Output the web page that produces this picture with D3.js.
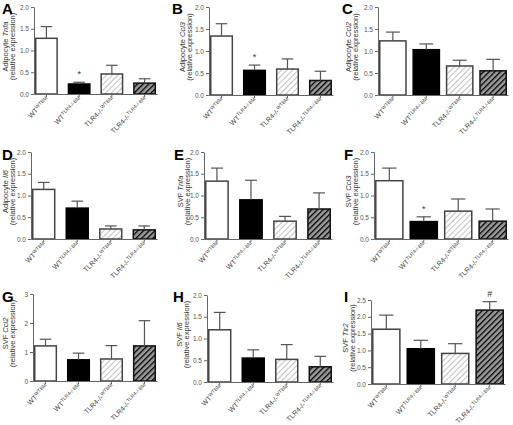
<!DOCTYPE html>
<html><head><meta charset="utf-8">
<script src="https://cdn.jsdelivr.net/npm/d3@7"></script>
<style>body{margin:0;background:#fff}svg{display:block}</style>
</head><body><svg id="c" width="513" height="425"></svg>
<script>
// ---- data ----
const groupBase = ["WT", "WT", "TLR4-/-", "TLR4-/-"];
const groupSup  = ["WTBM", "TLR4-/-BM", "WTBM", "TLR4-/-BM"];
const panelLetters = ["A","B","C","D","E","F","G","H","I"];
const titlePrefix = ["Adipocyte","Adipocyte","Adipocyte","Adipocyte","SVF","SVF","SVF","SVF","SVF"];
const genes = ["Tnfa","Ccl3","Ccl2","Il6","Tnfa","Ccl3","Ccl2","Il6","Tlr2"];
const meansA = [1.28, 0.23, 0.46, 0.25];
const meansB = [1.34, 0.56, 0.59, 0.33];
const meansC = [1.23, 1.03, 0.66, 0.55];
const meansD = [1.14, 0.71, 0.23, 0.21];
const meansE = [1.33, 0.90, 0.41, 0.69];
const meansF = [1.34, 0.40, 0.64, 0.41];
const meansG = [1.21, 0.73, 0.76, 1.21];
const meansH = [1.20, 0.55, 0.52, 0.35];
const meansI = [1.63, 1.05, 0.91, 2.20];
const semA = [0.27, 0.04, 0.20, 0.10];
const semB = [0.28, 0.12, 0.23, 0.21];
const semC = [0.20, 0.13, 0.13, 0.26];
const semD = [0.16, 0.16, 0.07, 0.09];
const semE = [0.30, 0.45, 0.11, 0.37];
const semF = [0.29, 0.11, 0.28, 0.28];
const semG = [0.23, 0.23, 0.46, 0.87];
const semH = [0.40, 0.19, 0.34, 0.24];
const semI = [0.42, 0.25, 0.29, 0.25];
const marksA = ["", "*", "", ""];
const marksB = ["", "*", "", ""];
const marksF = ["", "*", "", ""];
const marksI = ["", "", "", "#"];
const noMarks = ["", "", "", ""];
const ticks2   = [0, 0.5, 1.0, 1.5, 2.0];
const ticks3   = [0, 1, 2, 3];
const ticks2_5 = [0, 0.5, 1.0, 1.5, 2.0, 2.5];
const yMax = [2, 2, 2, 2, 2, 2, 3, 2, 2.5];

const means = [meansA, meansB, meansC, meansD, meansE, meansF, meansG, meansH, meansI];
const sems  = [semA, semB, semC, semD, semE, semF, semG, semH, semI];
const marks = [marksA, marksB, noMarks, noMarks, noMarks, marksF, noMarks, noMarks, marksI];
const tickSets = [ticks2, ticks2, ticks2, ticks2, ticks2, ticks2, ticks3, ticks2, ticks2_5];

// ---- layout (positions only) ----
const layout = [
  {x0:34,  x1:157, yT:7,   yB:94,  pi:0.30, tx:8,   lx:2,   ly:14},
  {x0:209, x1:333, yT:7,   yB:95,  pi:0.30, tx:185, lx:172, ly:14},
  {x0:378, x1:508, yT:7,   yB:95,  pi:0.17, tx:351, lx:342, ly:14},
  {x0:31,  x1:157, yT:152, yB:239, pi:0.30, tx:8,   lx:2,   ly:160},
  {x0:204, x1:332, yT:152, yB:239, pi:0.30, tx:183, lx:174, ly:160},
  {x0:374, x1:508, yT:152, yB:239, pi:0.17, tx:351, lx:344, ly:160},
  {x0:33,  x1:157, yT:294, yB:381, pi:0.30, tx:8,   lx:2,   ly:302},
  {x0:207, x1:333, yT:295, yB:382, pi:0.30, tx:182, lx:173, ly:302},
  {x0:371, x1:505, yT:300, yB:384, pi:0.17, tx:348, lx:344, ly:302}
];

const svg = d3.select("#c");
const defs = svg.append("defs");
const p1 = defs.append("pattern").attr("id","hatchLight").attr("patternUnits","userSpaceOnUse")
  .attr("width",4).attr("height",4).attr("patternTransform","rotate(45)");
p1.append("rect").attr("width",4).attr("height",4).attr("fill","#fff");
p1.append("line").attr("x1",0).attr("y1",0).attr("x2",0).attr("y2",4).attr("stroke","#a8a8a8").attr("stroke-width",1.4);
const p2 = defs.append("pattern").attr("id","hatchDark").attr("patternUnits","userSpaceOnUse")
  .attr("width",4).attr("height",4).attr("patternTransform","rotate(45)");
p2.append("rect").attr("width",4).attr("height",4).attr("fill","#9a9a9a");
p2.append("line").attr("x1",0).attr("y1",0).attr("x2",0).attr("y2",4).attr("stroke","#000").attr("stroke-width",2.6);

const fills = ["#fff", "#000", "url(#hatchLight)", "url(#hatchDark)"];
const strokes = ["#444", "#000", "#444", "#111"];
const idx = [0,1,2,3];
const font = "Arial, 'Liberation Sans', Helvetica, sans-serif";

layout.forEach((L, p) => {
  const g = svg.append("g");
  const x = d3.scaleBand().domain(idx).range([L.x0, L.x1]).paddingInner(L.pi).paddingOuter(0.03);
  const y = d3.scaleLinear().domain([0, yMax[p]]).range([L.yB, L.yT]);
  const bw = x.bandwidth();

  // bars
  g.selectAll("rect.bar").data(idx).join("rect")
    .attr("x", i => x(i) + 0.75).attr("width", bw - 1.5)
    .attr("y", i => y(means[p][i])).attr("height", i => L.yB - y(means[p][i]))
    .attr("fill", i => fills[i]).attr("stroke", i => strokes[i]).attr("stroke-width", 1.5);

  // error bars (upper only)
  const eg = g.selectAll("g.err").data(idx).join("g").attr("stroke", "#555").attr("stroke-width", 1.2);
  eg.append("line").attr("x1", i => x(i) + bw/2).attr("x2", i => x(i) + bw/2)
    .attr("y1", i => y(means[p][i])).attr("y2", i => y(means[p][i] + sems[p][i]));
  eg.append("line").attr("x1", i => x(i) + bw/2 - bw*0.25).attr("x2", i => x(i) + bw/2 + bw*0.25)
    .attr("y1", i => y(means[p][i] + sems[p][i])).attr("y2", i => y(means[p][i] + sems[p][i]));

  // significance marks
  g.selectAll("text.mark").data(idx.filter(i => marks[p][i])).join("text")
    .attr("x", i => x(i) + bw/2).attr("y", i => y(means[p][i] + sems[p][i]) - 5)
    .attr("text-anchor", "middle").attr("font-family", font)
    .attr("font-size", 9).attr("fill", "#333")
    .text(i => marks[p][i]);

  // y axis
  const fmt = yMax[p] === 3 ? d3.format("d") : d3.format(".1f");
  const ya = g.append("g").attr("transform", `translate(${L.x0},0)`)
    .call(d3.axisLeft(y).tickValues(tickSets[p]).tickSize(3).tickSizeOuter(0).tickPadding(2).tickFormat(fmt));
  ya.select(".domain").attr("stroke", "#666");
  ya.selectAll(".tick line").attr("stroke", "#666");
  ya.selectAll("text").attr("font-family", font).attr("font-size", 6.5).attr("fill", "#555");

  // x axis
  const xa = g.append("g").attr("transform", `translate(0,${L.yB})`)
    .call(d3.axisBottom(x).tickSize(3).tickSizeOuter(0).tickFormat(""));
  xa.select(".domain").attr("stroke", "#666");
  xa.selectAll(".tick line").attr("stroke", "#666");

  // x labels
  const lab = g.selectAll("text.xl").data(idx).join("text")
    .attr("transform", i => `translate(${x(i) + bw/2 + 3},${L.yB + 6}) rotate(-45)`)
    .attr("text-anchor", "end").attr("font-family", font).attr("font-size", 7).attr("fill", "#444");
  lab.append("tspan").text(i => groupBase[i]);
  lab.append("tspan").attr("font-size", 5).attr("dy", -2.5).text(i => groupSup[i]);

  // y title
  const cy = (L.yT + L.yB) / 2 - 4;
  const t1 = g.append("text").attr("transform", `translate(${L.tx},${cy}) rotate(-90)`)
    .attr("text-anchor", "middle").attr("font-family", font).attr("font-size", 7.5).attr("fill", "#333");
  t1.append("tspan").text(titlePrefix[p] + " ");
  t1.append("tspan").attr("font-style", "italic").text(genes[p]);
  g.append("text").attr("transform", `translate(${L.tx + 7},${cy}) rotate(-90)`)
    .attr("text-anchor", "middle").attr("font-family", font).attr("font-size", 7.5).attr("fill", "#333")
    .text("(relative expression)");

  // panel letter
  g.append("text").attr("x", L.lx).attr("y", L.ly).attr("font-family", font)
    .attr("font-weight", "bold").attr("font-size", 15).attr("fill", "#000").text(panelLetters[p]);
});
</script></body></html>
